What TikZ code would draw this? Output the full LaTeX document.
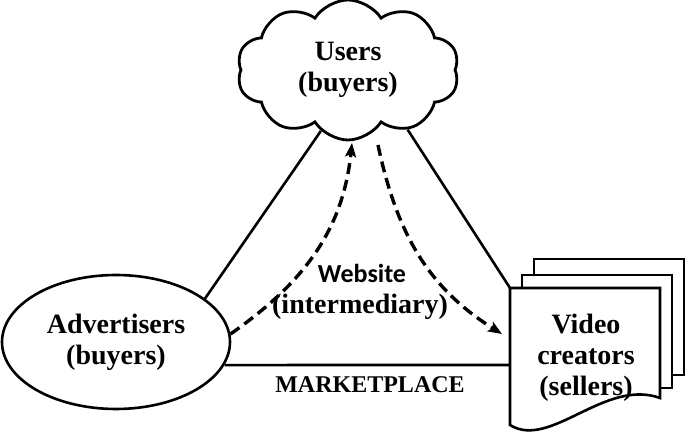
\documentclass[tikz,border=0pt]{standalone}
\usepackage{fontspec}
\setmainfont{Liberation Serif}
\newfontfamily\webfont{Carlito}
\usetikzlibrary{shapes.symbols,shapes.geometric,arrows.meta}
\begin{document}
\begin{tikzpicture}[x=1pt,y=1pt,
  lbl/.style={font=\fontsize{28}{31}\selectfont\bfseries, align=center},
  solidline/.style={line width=2.6pt},
  dasharrow/.style={line width=3.4pt, dash pattern=on 11pt off 6pt, -{Stealth[length=14pt,width=11pt,inset=3pt]}},
  docshape/.style={line width=2.6pt, fill=white}
]
\useasboundingbox (0,0) rectangle (686,436);
% cloud
\node[cloud, draw, line width=2.8pt, cloud puffs=10, cloud puff arc=115, aspect=1.6,
      minimum width=222pt, minimum height=140pt, inner sep=0pt, lbl] (users) at (348,366) {Users\\(buyers)};
% ellipse
\node[ellipse, draw, line width=2.6pt, minimum width=228pt, minimum height=134pt, inner sep=0pt, lbl] (adv) at (116,94) {Advertisers\\(buyers)};
% documents
\draw[docshape] (534,177) rectangle (684,61);
\draw[docshape] (522,161) rectangle (672,48);
\draw[docshape] (510,148) -- (660,148) -- (660,38) .. controls (605,58) and (550,-14) .. (510,11) -- cycle;
\coordinate (doctl) at (510,148);
\coordinate (docl) at (510,71);
\node[lbl, inner sep=0pt] (video) at (586,78) {Video\\creators\\(sellers)};
% solid connectors
\draw[solidline] (adv.26) -- (users.246);
\draw[solidline] (users.315) -- (doctl);
\draw[solidline] (adv.-12) -- (docl);
\node[font=\fontsize{24}{28}\selectfont\bfseries, inner sep=0pt] (market) at (370,51) {MARKETPLACE};
% website
\node[font=\fontsize{26}{30}\selectfont, inner sep=0pt] (web) at (362,163) {\webfont\bfseries Website};
\node[lbl, inner sep=0pt] (inter) at (360,129) {(intermediary)};
% dashed arrows
\draw[dasharrow] (adv.4) to[out=35, in=-96] (352,293);
\draw[dasharrow] (378,291) to[out=-78, in=148] (502,102);
\end{tikzpicture}
\end{document}
